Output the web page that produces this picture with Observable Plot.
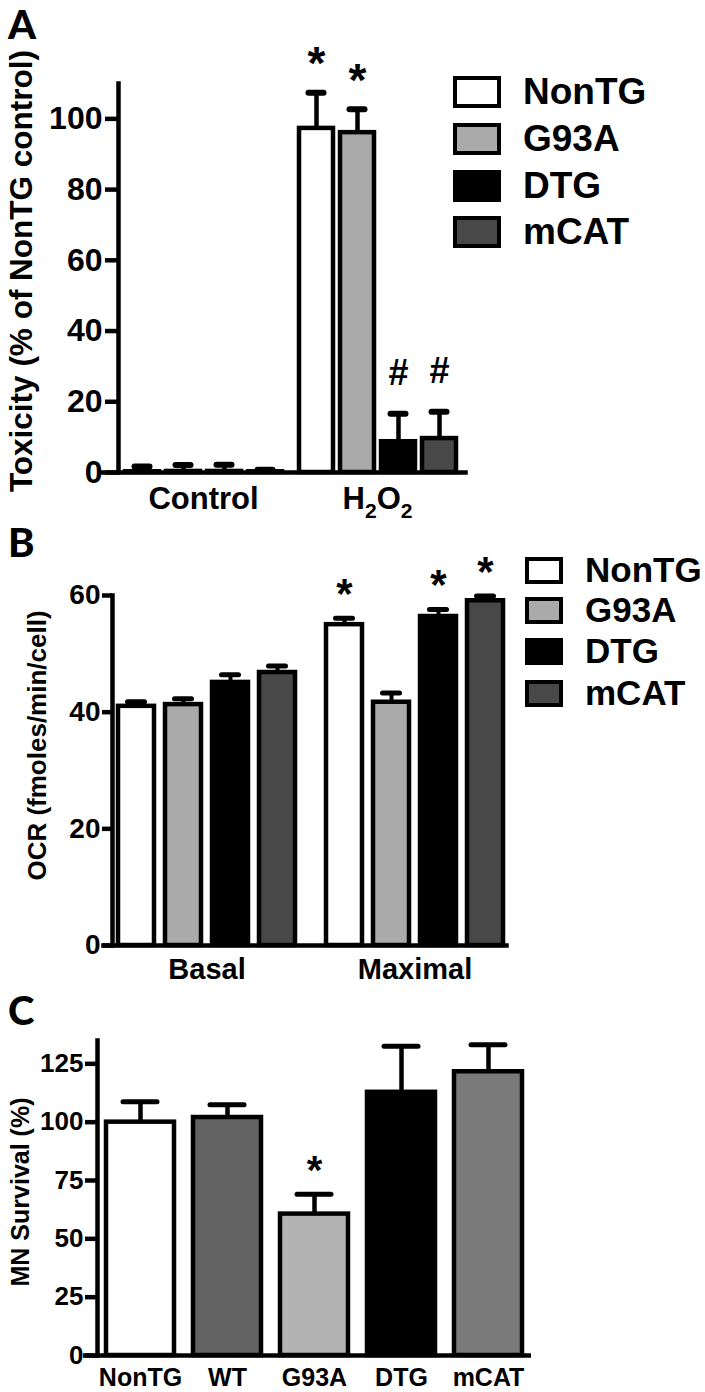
<!DOCTYPE html>
<html><head><meta charset="utf-8">
<script src="https://cdn.jsdelivr.net/npm/d3@7"></script>
<script src="https://cdn.jsdelivr.net/npm/@observablehq/plot@0.6"></script>
<style>
body{margin:0;background:#fff;}
#fig{position:relative;width:705px;height:1392px;font-family:"Liberation Sans",Arial,sans-serif;font-weight:bold;color:#000;overflow:hidden;}
.panel{position:absolute;left:0;}
.panel svg{overflow:visible;}
.letter{position:absolute;font-family:Lato,"Open Sans",sans-serif;font-weight:900;font-size:40px;line-height:1;}
.legend{position:absolute;left:0;top:0;}
.legend .row{position:absolute;display:flex;align-items:center;white-space:nowrap;font-weight:bold;}
.legend .sw{box-sizing:border-box;border:4.5px solid #000;flex:none;}
</style></head><body><div id="fig"></div>
<script>
// ---------- data ----------
const seriesA = ["NonTG", "G93A", "DTG", "mCAT"];
const colorsA = ["#ffffff", "#aaaaaa", "#000000", "#484848"];

// Panel A: toxicity (% of NonTG control)
const conditionsA = ["Control", "H2O2"];
const toxControlMean = [0.2, 0.3, 0.3, 0.2];
const toxControlErr = [1.5, 1.8, 1.9, 0.6];
const toxH2O2Mean = [97.3, 96.1, 8.7, 9.6];
const toxH2O2Err = [10.1, 6.6, 7.9, 7.6];
const toxH2O2Marks = ["*", "*", "#", "#"];
const toxTicks = [0, 20, 40, 60, 80, 100];
const yTitleA = "Toxicity (% of NonTG control)";

// Panel B: OCR
const conditionsB = ["Basal", "Maximal"];
const ocrBasalMean = [41.0, 41.3, 45.1, 46.8];
const ocrBasalErr = [0.8, 1.0, 1.3, 1.1];
const ocrMaxMean = [55.0, 41.7, 56.4, 59.1];
const ocrMaxErr = [1.1, 1.6, 1.2, 0.8];
const ocrMaxMarks = ["*", "", "*", "*"];
const ocrTicks = [0, 20, 40, 60];
const yTitleB = "OCR (fmoles/min/cell)";

// Panel C: MN survival
const survivalGroups = ["NonTG", "WT", "G93A", "DTG", "mCAT"];
const survivalColors = ["#ffffff", "#636363", "#b3b3b3", "#000000", "#7a7a7a"];
const survivalMean = [100, 102, 60.6, 112.8, 121.6];
const survivalErr = [8.8, 5.5, 8.5, 19.7, 11.6];
const survivalMarks = ["", "", "*", "", ""];
const survivalTicks = [0, 25, 50, 75, 100, 125];
const yTitleC = "MN Survival (%)";

// ---------- build tables ----------
const rowsA = [];
conditionsA.forEach((cond, ci) => seriesA.forEach((s, si) => rowsA.push({
  cond, series: s,
  mean: (ci === 0 ? toxControlMean : toxH2O2Mean)[si],
  err: (ci === 0 ? toxControlErr : toxH2O2Err)[si],
  mark: ci === 0 ? "" : toxH2O2Marks[si]
})));
const rowsB = [];
conditionsB.forEach((cond, ci) => seriesA.forEach((s, si) => rowsB.push({
  cond, series: s,
  mean: (ci === 0 ? ocrBasalMean : ocrMaxMean)[si],
  err: (ci === 0 ? ocrBasalErr : ocrMaxErr)[si],
  mark: ci === 0 ? "" : ocrMaxMarks[si]
})));
const rowsC = survivalGroups.map((g, i) => ({group: g, mean: survivalMean[i], err: survivalErr[i], mark: survivalMarks[i]}));

const FONT = "'Liberation Sans', Arial, sans-serif";
const baseStyle = {fontFamily: FONT, fontWeight: "bold", color: "#000", background: "transparent", overflow: "visible"};
const errTop = d => d.mean + d.err;

const fig = document.getElementById("fig");
function place(node, y) {
  const d = document.createElement("div");
  d.className = "panel"; d.style.top = y + "px";
  d.appendChild(node); fig.appendChild(d);
}

// ---------- Panel A ----------
const plotA = Plot.plot({
  width: 705, height: 520,
  marginLeft: 117, marginRight: 243, marginTop: 83, marginBottom: 48,
  style: baseStyle,
  fx: {domain: conditionsA, paddingInner: 0.023, paddingOuter: 0, label: null},
  x: {domain: seriesA, paddingInner: 0.18, paddingOuter: 0.145, axis: null},
  y: {domain: [0, 110], label: null},
  color: {domain: seriesA, range: colorsA},
  marks: [
    Plot.barY(rowsA, {fx: "cond", x: "series", y: "mean", fill: "series", stroke: "#000", strokeWidth: 4.5}),
    Plot.ruleX(rowsA, {fx: "cond", x: "series", y1: "mean", y2: errTop, stroke: "#000", strokeWidth: 4.5}),
    Plot.tickY(rowsA, {fx: "cond", x: "series", y: errTop, stroke: "#000", strokeWidth: 6, strokeLinecap: "round", insetLeft: 9.5, insetRight: 9.5}),
    Plot.text(rowsA, {filter: d => d.mark === "*", fx: "cond", x: "series", y: errTop, text: "mark", fontSize: 46, dy: -28}),
    Plot.text(rowsA, {filter: d => d.mark === "#", fx: "cond", x: "series", y: errTop, text: "mark", fontSize: 36, dy: -40}),
    Plot.axisY({ticks: toxTicks, tickSize: 13, tickPadding: 3, strokeWidth: 4.5, fontSize: 32, label: null}),
    Plot.axisFx({anchor: "bottom", tickSize: 0, tickPadding: 14, fontSize: 31, label: null}),
    Plot.frame({anchor: "bottom", facet: "super", insetLeft: -17, insetRight: -3, stroke: "#000", strokeWidth: 4.5}),
    Plot.frame({anchor: "left", facet: "super", stroke: "#000", strokeWidth: 4.5}),
    Plot.text([yTitleA], {facet: "super", frameAnchor: "left", textAnchor: "middle", rotate: -90, dx: -97, dy: -7, fontSize: 31.5, text: d => d})
  ]
});
plotA.querySelectorAll("text").forEach(t => {
  if (t.textContent === "H2O2") {
    t.textContent = "";
    const ns = "http://www.w3.org/2000/svg";
    const parts = [["H", 0, null], ["2", 9, "0.68em"], ["O", -9, null], ["2", 9, "0.68em"]];
    parts.forEach(([s, dy, fs]) => {
      const sp = document.createElementNS(ns, "tspan");
      sp.textContent = s; if (dy) sp.setAttribute("dy", dy);
      if (fs) sp.setAttribute("font-size", fs);
      t.appendChild(sp);
    });
  }
});
place(plotA, 0);

// ---------- Panel B ----------
const plotB = Plot.plot({
  width: 705, height: 470,
  marginLeft: 97, marginRight: 182, marginTop: 75, marginBottom: 45,
  style: baseStyle,
  fx: {domain: conditionsB, paddingInner: 0.092, paddingOuter: 0.066, label: null},
  x: {domain: seriesA, paddingInner: 0.224, paddingOuter: 0.1, axis: null},
  y: {domain: [0, 60], label: null},
  color: {domain: seriesA, range: colorsA},
  marks: [
    Plot.barY(rowsB, {fx: "cond", x: "series", y: "mean", fill: "series", stroke: "#000", strokeWidth: 4.5}),
    Plot.ruleX(rowsB, {fx: "cond", x: "series", y1: "mean", y2: errTop, stroke: "#000", strokeWidth: 4}),
    Plot.tickY(rowsB, {fx: "cond", x: "series", y: errTop, stroke: "#000", strokeWidth: 5, strokeLinecap: "round", insetLeft: 9.5, insetRight: 9.5}),
    Plot.text(rowsB, {filter: d => d.mark === "*", fx: "cond", x: "series", y: errTop, text: "mark", fontSize: 42, dy: -24}),
    Plot.axisY({ticks: ocrTicks, tickSize: 10, tickPadding: 2, strokeWidth: 4.5, fontSize: 28, label: null}),
    Plot.axisFx({anchor: "bottom", tickSize: 0, tickPadding: 13, fontSize: 29, label: null}),
    Plot.frame({anchor: "bottom", facet: "super", insetLeft: -9, insetRight: 3, stroke: "#000", strokeWidth: 4.5}),
    Plot.frame({anchor: "left", facet: "super", stroke: "#000", strokeWidth: 4.5}),
    Plot.text([yTitleB], {facet: "super", frameAnchor: "left", textAnchor: "middle", rotate: -90, dx: -75, dy: -25, fontSize: 26, text: d => d})
  ]
});
place(plotB, 520);

// ---------- Panel C ----------
const plotC = Plot.plot({
  width: 705, height: 402,
  marginLeft: 97, marginRight: 174, marginTop: 50, marginBottom: 37,
  style: baseStyle,
  x: {domain: survivalGroups, paddingInner: 0.223, paddingOuter: 0.091, label: null},
  y: {domain: [0, 135], label: null},
  color: {domain: survivalGroups, range: survivalColors},
  marks: [
    Plot.barY(rowsC, {x: "group", y: "mean", fill: "group", stroke: "#000", strokeWidth: 4.5}),
    Plot.ruleX(rowsC, {x: "group", y1: "mean", y2: errTop, stroke: "#000", strokeWidth: 4.5}),
    Plot.tickY(rowsC, {x: "group", y: errTop, stroke: "#000", strokeWidth: 5, strokeLinecap: "round", insetLeft: 17, insetRight: 17}),
    Plot.text(rowsC, {filter: d => d.mark === "*", x: "group", y: errTop, text: "mark", fontSize: 40, dy: -23}),
    Plot.axisY({ticks: survivalTicks, tickSize: 12, tickPadding: 2, strokeWidth: 4.5, fontSize: 26, label: null}),
    Plot.axisX({anchor: "bottom", tickSize: 0, tickPadding: 13, fontSize: 25, label: null}),
    Plot.ruleY([0], {insetLeft: -14, insetRight: 0, stroke: "#000", strokeWidth: 4.5}),
    Plot.frame({anchor: "left", stroke: "#000", strokeWidth: 4.5}),
    Plot.text([yTitleC], {frameAnchor: "left", textAnchor: "middle", rotate: -90, dx: -77, dy: -6, fontSize: 25, text: d => d})
  ]
});
place(plotC, 990);

// ---------- panel letters ----------
[["A", 8, 4], ["B", 8, 522], ["C", 8, 990]].forEach(([t, x, y]) => {
  const d = document.createElement("div");
  d.className = "letter"; d.textContent = t;
  d.style.left = x + "px"; d.style.top = y + "px";
  fig.appendChild(d);
});

// ---------- legends ----------
function legend(left, rowCenters, swW, swH, textLeft, fontSize) {
  const box = document.createElement("div");
  box.className = "legend";
  seriesA.forEach((s, i) => {
    const row = document.createElement("div");
    row.className = "row";
    row.style.left = left + "px";
    row.style.top = (rowCenters[i] - swH / 2) + "px";
    row.style.height = swH + "px";
    row.style.fontSize = fontSize + "px";
    const sw = document.createElement("div");
    sw.className = "sw";
    sw.style.width = swW + "px"; sw.style.height = swH + "px";
    sw.style.background = colorsA[i];
    const lab = document.createElement("span");
    lab.textContent = s;
    lab.style.marginLeft = (textLeft - left - swW) + "px";
    row.appendChild(sw); row.appendChild(lab);
    box.appendChild(row);
  });
  fig.appendChild(box);
}
legend(453, [92, 139, 186, 232], 48, 32, 523, 37);
legend(525, [570, 610, 651, 693], 38, 27, 585, 35);
</script></body></html>
